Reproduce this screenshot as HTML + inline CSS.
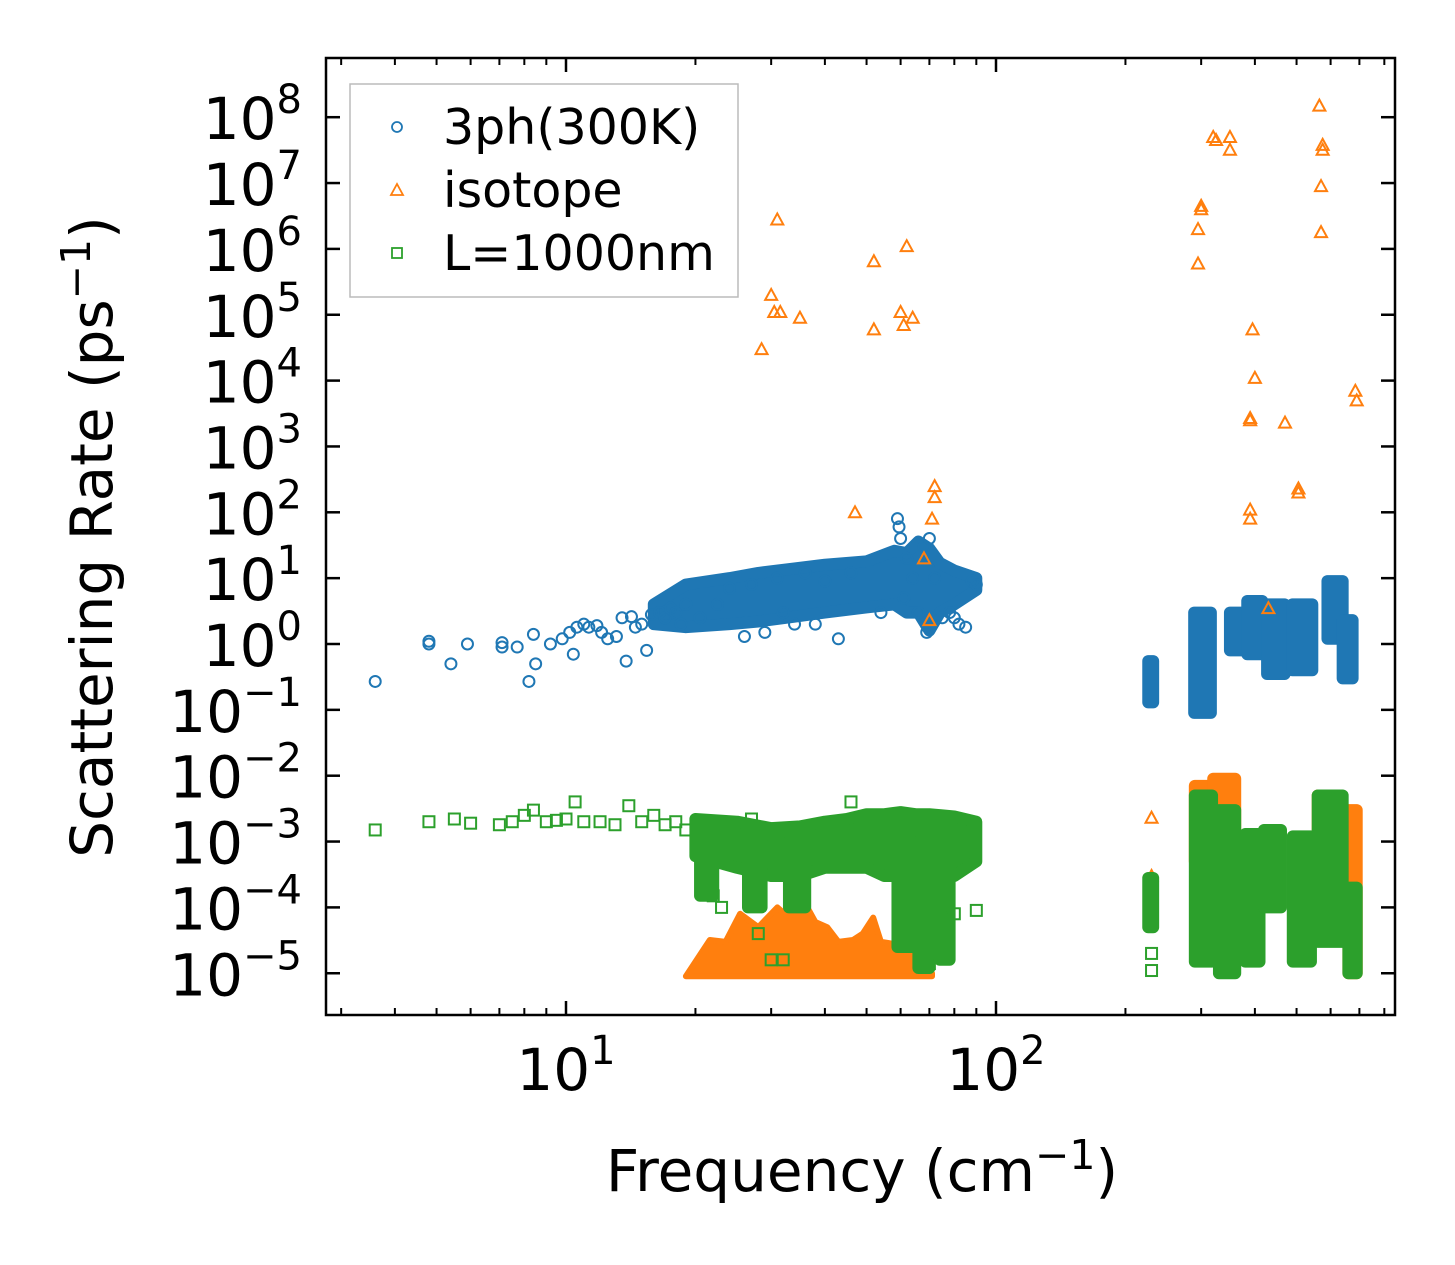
<!DOCTYPE html>
<html><head><meta charset="utf-8"><style>
html,body{margin:0;padding:0;background:#fff}
svg{display:block;font-family:"DejaVu Sans","Liberation Sans",sans-serif}
</style></head><body>
<svg id="chart" width="1455" height="1265" viewBox="0 0 1455 1265" xmlns="http://www.w3.org/2000/svg">
<rect x="0" y="0" width="1455" height="1265" fill="#fff"/>
<g id="marks"></g>
<g id="axes"></g>
<text x="112" y="537" font-size="58" text-anchor="middle" transform="rotate(-90 112 537)">Scattering Rate (ps<tspan font-size="41" dy="-22">−1</tspan><tspan dy="22">)</tspan></text>
<text x="862" y="1191" font-size="58" text-anchor="middle">Frequency (cm<tspan font-size="41" dy="-22">−1</tspan><tspan dy="22">)</tspan></text>
<g>
<rect x="350" y="84" width="388" height="213" fill="#fff" fill-opacity="0.8" stroke="#bbb" stroke-width="1.5"/>
<circle cx="397" cy="127" r="5" fill="none" stroke="#1f77b4" stroke-width="1.8"/>
<text x="443" y="144" font-size="49">3ph(300K)</text>
<path d="M391,195 L403,195 L397,184 Z" fill="none" stroke="#ff7f0e" stroke-width="1.8"/>
<text x="443" y="207" font-size="49">isotope</text>
<rect x="392" y="248" width="10" height="10" fill="none" stroke="#2ca02c" stroke-width="1.8"/>
<text x="443" y="270" font-size="49">L=1000nm</text>
</g>
</svg>
<script>
// ---- data ----
const xTickValues = [10, 100];
const xTickExp = ["1", "2"];
const yTickExp = [-5,-4,-3,-2,-1,0,1,2,3,4,5,6,7,8];

const blueX = [3.6,4.8,4.8,5.4,5.9,7.1,7.1,7.7,8.2,8.4,8.5,9.2,9.8,10.2,10.4,10.6,11,11.3,11.8,12.1,12.5,13.1,13.5,13.8,14.2,14.5,15,15.4,15.8,16.5,17,17.5,18,18.5,19,20.5,22.5,24,26,27,29,31,32,34,36,38,40,43,46,54,59,59.5,60,61,62,64,66,68,69,70,72,75,78,80,82,85,88,90];
const blueY = [0.27,1.1,1.0,0.5,1.0,1.05,0.9,0.9,0.27,1.4,0.5,1.0,1.2,1.5,0.7,1.8,2,1.8,1.9,1.5,1.2,1.3,2.5,0.55,2.6,1.8,2,0.8,2.8,3,2.5,3.5,3,2,4,2.5,4,7,1.3,8,1.5,10,3,2,12,2,9,1.2,12,3,80,60,40,5,20,10,3,30,1.5,40,10,2.5,3,2.5,2,1.8,9,8];
const blueBandX  = [16,19,24,28,34,40,50,58,62,66,70,74,80,90];
const blueBandHi = [4,8,10,12,14,16,18,26,24,36,28,17,13,10];
const blueBandLo = [2,1.8,2,2.2,2.6,3,3.6,4,3,3,1.6,3,4,6.6];
const blueClusters = [[226,232,0.13,0.55],[289,316,0.09,3],[350,394,0.8,3],[384,416,0.7,4.5],[427,469,0.35,4],[489,544,0.4,4],[590,640,1.2,9],[640,675,0.3,2.3]];

const orangeX = [28.5,30,30.5,31,31.5,35,52,52,60,61,62,64,47,72,72,71,68,70,295,295,300,300,320,325,350,350,395,400,390,390,390,390,470,505,505,565,570,575,575,570,685,690,430,230,230];
const orangeY = [3e4,2e5,1.1e5,2.8e6,1.1e5,9e4,6.5e5,6e4,1.1e5,7e4,1.1e6,9e4,100,250,170,80,20,2.3,6e5,2e6,4.5e6,4e6,5e7,4.5e7,5e7,3.2e7,6e4,1.1e4,2.7e3,2.5e3,110,80,2.3e3,230,200,1.5e8,9e6,3.8e7,3.2e7,1.8e6,7e3,5e3,3.5,2.3e-3,3e-4];
const orangeBandX  = [19,21.6,23.5,25.4,28,31,33,35,38,40.5,43,46.5,49,51.8,54,57.6,62,66,71];
const orangeBandHi = [9e-6,3.2e-5,3e-5,8e-5,5e-5,1e-4,7e-5,1.6e-4,6e-5,5e-5,3e-5,3.2e-5,4e-5,7e-5,3e-5,2.8e-5,3e-5,2e-5,1e-5];
const orangeBandLo = [9e-6,9e-6,9e-6,9e-6,9e-6,9e-6,9e-6,9e-6,9e-6,9e-6,9e-6,9e-6,9e-6,9e-6,9e-6,9e-6,9e-6,9e-6,9e-6];
const orangeClusters = [[290,320,5e-4,7e-3],[320,360,1e-3,9e-3],[560,600,5e-4,5e-3],[660,690,1e-5,3e-3]];

const greenX = [3.6,4.8,5.5,6,7,7.5,8,8.4,9,9.5,10,10.5,11,12,13,14,15,16,17,18,19,22,23,27,28,30,32,46,70,75,80,90,230,230];
const greenY = [1.5e-3,2e-3,2.2e-3,1.9e-3,1.8e-3,2e-3,2.5e-3,3e-3,2e-3,2.1e-3,2.2e-3,4e-3,2e-3,2e-3,1.8e-3,3.5e-3,2e-3,2.5e-3,1.8e-3,2e-3,1.5e-3,1.5e-4,1e-4,2.2e-3,4e-5,1.6e-5,1.6e-5,4e-3,1.4e-5,1e-4,8e-5,9e-5,1.1e-5,2e-5];
const greenBandX  = [20,25,30,35,40,45,50,55,60,65,70,75,80,90];
const greenBandHi = [2.2e-3,2e-3,1.6e-3,1.7e-3,2e-3,2.2e-3,2.6e-3,2.6e-3,2.8e-3,2.6e-3,2.6e-3,2.5e-3,2.4e-3,2e-3];
const greenBandLo = [6e-4,4e-4,3e-4,3e-4,4e-4,4e-4,4e-4,3e-4,3e-4,2e-4,1.5e-4,3e-4,3e-4,5e-4];
const greenClusters = [[20.5,22,1.5e-4,1e-3],[26.5,28.5,1e-4,1e-3],[33,36,1e-4,1e-3],[59,64,2.5e-5,1e-3],[66,70,1.2e-5,1e-3],[74,78,1.6e-5,1e-3],[226,232,5e-5,2.8e-4],[290,318,1.5e-5,5e-3],[330,360,1e-5,3e-3],[380,410,1.5e-5,1.3e-3],[420,460,1e-4,1.5e-3],[490,540,1.5e-5,1.2e-3],[560,640,3e-5,5e-3],[660,690,1e-5,2e-4]];

// ---- axes ----
const X = f => 566 + 430 * (Math.log10(f) - 1);
const Y = v => 644 - 65.85 * Math.log10(v);
const NS = "http://www.w3.org/2000/svg";
const marks = document.getElementById('marks');
const axes = document.getElementById('axes');
function mk(tag, attrs, parent){const e=document.createElementNS(NS,tag);for(const k in attrs)e.setAttribute(k,attrs[k]);parent.appendChild(e);return e;}

function band(xs, hi, lo, color, name, sw){
  let pts=[];
  for(let i=0;i<xs.length;i++) pts.push(X(xs[i]).toFixed(1)+','+Y(hi[i]).toFixed(1));
  for(let i=xs.length-1;i>=0;i--) pts.push(X(xs[i]).toFixed(1)+','+Y(lo[i]).toFixed(1));
  const p=mk('polygon',{points:pts.join(' '),fill:color,stroke:color,'stroke-width':sw,'stroke-linejoin':'round'},marks);
  
  
}
function clusters(list, color, name){
  list.forEach(c=>{
    const x1=X(c[0]),x2=X(c[1]),y1=Y(c[3]),y2=Y(c[2]);
    const r=mk('rect',{x:x1-6,y:y1-6,width:x2-x1+12,height:y2-y1+12,rx:6,fill:color},marks);
    
    
  });
}
function circles(xs, ys){
  xs.forEach((x,i)=>{
    const c=mk('circle',{cx:X(x),cy:Y(ys[i]),r:5.5,fill:'none',stroke:'#1f77b4','stroke-width':2},marks);
    
    
  });
}
function tris(xs, ys){
  xs.forEach((x,i)=>{
    const cx=X(x),cy=Y(ys[i]);
    const t=mk('path',{d:`M${cx-6},${cy+5} L${cx+6},${cy+5} L${cx},${cy-6} Z`,fill:'none',stroke:'#ff7f0e','stroke-width':2},marks);
    
    
  });
}
function squares(xs, ys){
  xs.forEach((x,i)=>{
    const s=mk('rect',{x:X(x)-5.5,y:Y(ys[i])-5.5,width:11,height:11,fill:'none',stroke:'#2ca02c','stroke-width':2},marks);
    
    
  });
}
band(blueBandX, blueBandHi, blueBandLo, '#1f77b4', 'cloud-3ph', 12);
clusters(blueClusters, '#1f77b4', 'cluster-3ph');
circles(blueX, blueY);
band(orangeBandX, orangeBandHi, orangeBandLo, '#ff7f0e', 'cloud-isotope', 6);
clusters(orangeClusters, '#ff7f0e', 'cluster-isotope');
tris(orangeX, orangeY);
band(greenBandX, greenBandHi, greenBandLo, '#2ca02c', 'cloud-boundary', 12);
clusters(greenClusters, '#2ca02c', 'cluster-boundary');
squares(greenX, greenY);

// frame
const L=326,R=1395,T=58,B=1015;
const fr=mk('rect',{x:L,y:T,width:R-L,height:B-T,fill:'none',stroke:'#000','stroke-width':2.5},axes);


yTickExp.forEach(e=>{
  const y=Y(Math.pow(10,e));
  const t1=mk('line',{x1:L,x2:L+14,y1:y,y2:y,stroke:'#000','stroke-width':2.5},axes);
  
  
  const t2=mk('line',{x1:R-14,x2:R,y1:y,y2:y,stroke:'#000','stroke-width':2.5},axes);
  
  
  const tx=mk('text',{x:302,y:y+22,'font-size':58,'text-anchor':'end'},axes);
  
  
  tx.innerHTML='10<tspan font-size="40" dy="-26">'+(e<0?'−'+(-e):e)+'</tspan>';
});
for(let d=0; d<3; d++){
  for(let m=1;m<10;m++){
    const f=m*Math.pow(10,d);
    const x=X(f);
    if(x<L||x>R) continue;
    const len = m===1?14:7;
    const a=mk('line',{x1:x,x2:x,y1:B,y2:B-len,stroke:'#000','stroke-width':m===1?2.5:2},axes);
    
    
    const b=mk('line',{x1:x,x2:x,y1:T,y2:T+len,stroke:'#000','stroke-width':m===1?2.5:2},axes);
    
    
  }
}
xTickValues.forEach((v,i)=>{
  const tx=mk('text',{x:X(v),y:1090,'font-size':58,'text-anchor':'middle'},axes);
  
  
  tx.innerHTML='10<tspan font-size="40" dy="-26">'+xTickExp[i]+'</tspan>';
});
</script>
</body></html>
